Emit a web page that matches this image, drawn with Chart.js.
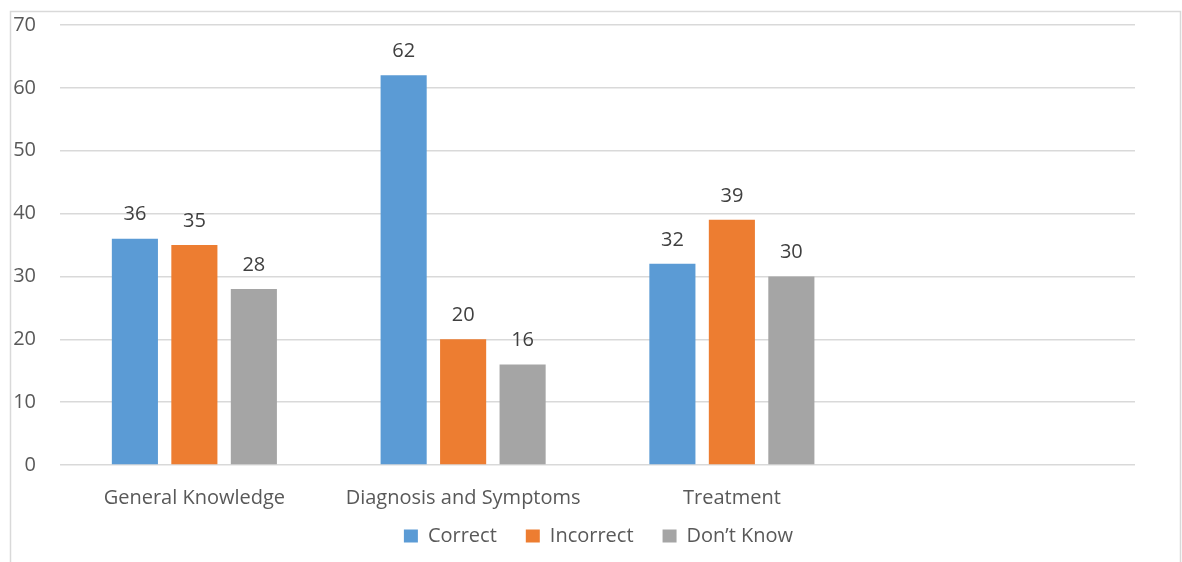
<!DOCTYPE html>
<html>
<head>
<meta charset="utf-8">
<script src="https://cdn.jsdelivr.net/npm/chart.js@4.4.0/dist/chart.umd.min.js"></script>
<style>
  html, body { margin: 0; padding: 0; background: #fff; }
  #wrap { position: absolute; left: 0; top: 0; width: 1182px; height: 562px; }
</style>
</head>
<body>
<div id="wrap"><canvas id="c" width="1182" height="562"></canvas></div>
<script>
const categories = ['General Knowledge', 'Diagnosis and Symptoms', 'Treatment', ''];
const correct = [36, 62, 32, null];
const incorrect = [35, 20, 39, null];
const dontKnow = [28, 16, 30, null];
const seriesNames = ['Correct', 'Incorrect', 'Don\u2019t Know'];
const yTicks = [0, 10, 20, 30, 40, 50, 60, 70];

const FONT = '"Open Sans", "Noto Sans", sans-serif';
const FSIZE = 20;

const borderPlugin = {
  id: 'outerBorder',
  beforeDraw(chart) {
    const ctx = chart.ctx;
    ctx.save();
    ctx.strokeStyle = '#d9d9d9';
    ctx.lineWidth = 1.5;
    ctx.beginPath();
    ctx.moveTo(10.5, 562);
    ctx.lineTo(10.5, 11.5);
    ctx.lineTo(1180.5, 11.5);
    ctx.lineTo(1180.5, 562);
    ctx.stroke();
    ctx.restore();
  },
  afterLayout(chart) {
    if (chart.legend) {
      chart.legend.left += 26;
      chart.legend.right += 26;
    }
  }
};

const valueLabels = {
  id: 'valueLabels',
  afterDatasetsDraw(chart) {
    const ctx = chart.ctx;
    ctx.save();
    ctx.font = FSIZE + 'px ' + FONT;
    ctx.fillStyle = '#404040';
    ctx.textAlign = 'center';
    ctx.textBaseline = 'middle';
    chart.data.datasets.forEach((ds, i) => {
      const meta = chart.getDatasetMeta(i);
      meta.data.forEach((el, j) => {
        const v = ds.data[j];
        if (v === null || v === undefined) return;
        ctx.fillText(String(v), el.x, el.y - 24);
      });
    });
    ctx.restore();
  }
};

new Chart(document.getElementById('c'), {
  type: 'bar',
  data: {
    labels: categories,
    datasets: [
      { label: seriesNames[0], data: correct, backgroundColor: '#5B9BD5' },
      { label: seriesNames[1], data: incorrect, backgroundColor: '#ED7D31' },
      { label: seriesNames[2], data: dontKnow, backgroundColor: '#A5A5A5' }
    ]
  },
  options: {
    responsive: false,
    animation: false,
    devicePixelRatio: 1,
    categoryPercentage: 0.664,
    barPercentage: 0.775,
    layout: { padding: { left: 10, right: 47, top: 25, bottom: 6 } },
    plugins: {
      legend: {
        position: 'bottom',
        labels: {
          boxWidth: 14,
          boxHeight: 13,
          padding: 29,
          color: '#595959',
          font: { family: FONT, size: FSIZE }
        }
      },
      tooltip: { enabled: false }
    },
    scales: {
      x: {
        grid: { display: false },
        border: { display: false },
        ticks: {
          color: '#595959',
          padding: 13,
          maxRotation: 0,
          autoSkip: false,
          font: { family: FONT, size: FSIZE }
        },
        afterFit(s) {
          s.height = 32;
          s.paddingLeft = 0;
          s.paddingRight = 0;
          s._computeLabelArea = () => undefined;
        }
      },
      y: {
        min: 0,
        max: 70,
        afterBuildTicks(s) { s.ticks = yTicks.map(v => ({ value: v })); },
        grid: { color: '#d9d9d9', lineWidth: 1.5, drawTicks: false },
        border: { display: false },
        ticks: {
          color: '#595959',
          padding: 24,
          font: { family: FONT, size: FSIZE }
        },
        afterFit(s) {
          s.width = 50;
          s.paddingTop = 0;
          s.paddingBottom = 0;
        }
      }
    }
  },
  plugins: [borderPlugin, valueLabels]
});
</script>
</body>
</html>
